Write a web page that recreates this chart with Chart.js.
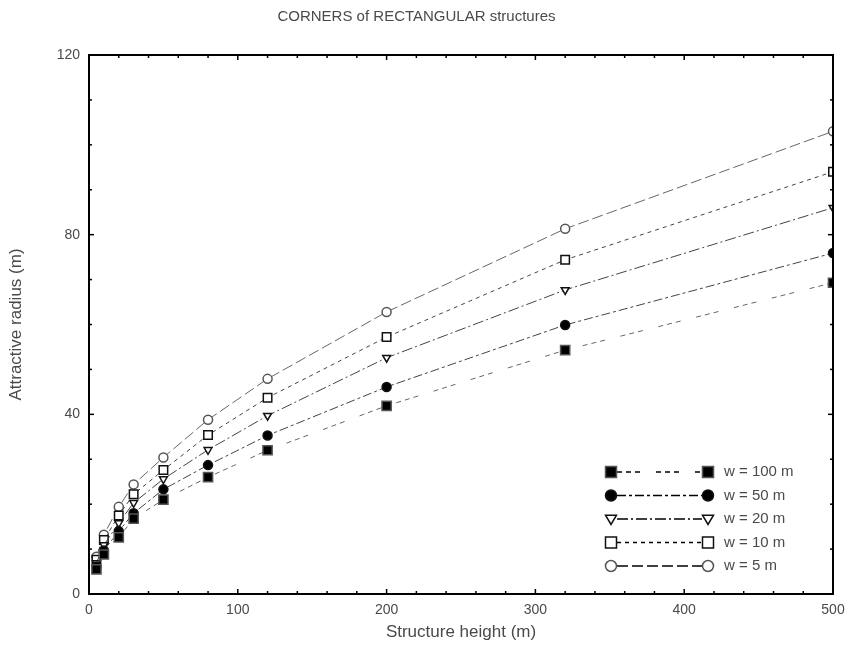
<!DOCTYPE html>
<html><head><meta charset="utf-8">
<script src="https://cdn.jsdelivr.net/npm/chart.js@4/dist/chart.umd.min.js"></script>
<style>html,body{margin:0;padding:0;background:#fff}</style>
</head><body>
<canvas id="c" width="848" height="657"></canvas>
<script>
// ---- data ----
const heights = [5, 10, 20, 30, 50, 80, 120, 200, 320, 500];
const w100 = [5.5, 8.8, 12.6, 16.8, 21.0, 26.0, 32.0, 41.9, 54.3, 69.3];
const w50  = [6.1, 9.7, 14.0, 18.0, 23.3, 28.7, 35.3, 46.1, 59.9, 75.9];
const w20  = [6.9, 10.9, 15.8, 20.3, 25.6, 32.1, 39.7, 52.6, 67.7, 86.0];
const w10  = [7.6, 12.0, 17.5, 22.2, 27.6, 35.4, 43.7, 57.2, 74.4, 94.0];
const w5   = [8.3, 13.2, 19.4, 24.4, 30.4, 38.8, 47.9, 62.8, 81.3, 103.0];
const seriesLabels = ['w = 100 m', 'w = 50 m', 'w = 20 m', 'w = 10 m', 'w = 5 m'];
const titleText = 'CORNERS of RECTANGULAR structures';
const xTitle = 'Structure height (m)';
const yTitle = 'Attractive radius (m)';
const xMajorTicks = [0, 100, 200, 300, 400, 500];
const xMinorTicks = [20, 40, 60, 80, 120, 140, 160, 180, 220, 240, 260, 280, 320, 340, 360, 380, 420, 440, 460, 480];
const yMajorTicks = [0, 40, 80, 120];
const yMinorTicks = [10, 20, 30, 50, 60, 70, 90, 100, 110];

const FONT = '"Liberation Sans", Arial, sans-serif';
const TXT = '#4a4a4a';

function ds(label, vals, style, dash, color, fill, rot, r) {
  return {
    label, data: heights.map((h, i) => ({x: h, y: vals[i]})),
    borderColor: color, borderWidth: 1, borderDash: dash,
    pointStyle: style, pointRotation: rot || 0, pointRadius: r, pointHoverRadius: r,
    pointBorderColor: color === '#666' ? '#555' : '#111', pointBackgroundColor: fill, pointBorderWidth: 1.5,
    tension: 0, fill: false
  };
}

const datasets = [
  ds(seriesLabels[0], w100, 'rect', [5, 4, 5, 4, 5, 16], '#666', '#000', 0, 6.5),
  ds(seriesLabels[1], w50, 'circle', [9, 3, 3, 3], '#444', '#000', 0, 4.5),
  ds(seriesLabels[2], w20, 'triangle', [11, 3, 2, 3], '#444', '#fff', 180, 4.5),
  ds(seriesLabels[3], w10, 'rect', [4, 4], '#444', '#fff', 0, 6),
  ds(seriesLabels[4], w5, 'circle', [11, 4], '#666', '#fff', 0, 4.5)
];

const framePlugin = {
  id: 'frame',
  afterDatasetsDraw(chart) {
    const {ctx, chartArea: a, scales: {x, y}} = chart;
    ctx.save();
    ctx.strokeStyle = '#000';
    ctx.lineWidth = 1.5;
    function tick(px, py, dx, dy) { ctx.beginPath(); ctx.moveTo(px, py); ctx.lineTo(px + dx, py + dy); ctx.stroke(); }
    yMinorTicks.forEach(v => { const p = y.getPixelForValue(v); tick(a.left, p, 3, 0); tick(a.right, p, -3, 0); });
    yMajorTicks.forEach(v => { const p = y.getPixelForValue(v); tick(a.left, p, 5, 0); tick(a.right, p, -5, 0); });
    xMinorTicks.forEach(v => { const p = x.getPixelForValue(v); tick(p, a.bottom, 0, -3); tick(p, a.top, 0, 3); });
    xMajorTicks.forEach(v => { const p = x.getPixelForValue(v); tick(p, a.bottom, 0, -5); tick(p, a.top, 0, 5); });
    ctx.lineWidth = 2;
    ctx.strokeRect(a.left, a.top, a.right - a.left, a.bottom - a.top);
    ctx.restore();
  }
};

function drawMarker(ctx, d, cx, cy, r) {
  ctx.save();
  ctx.lineWidth = 1.5;
  ctx.strokeStyle = d.pointBorderColor;
  ctx.fillStyle = d.pointBackgroundColor;
  ctx.beginPath();
  if (d.pointStyle === 'rect') {
    ctx.rect(cx - r, cy - r, 2 * r, 2 * r);
  } else if (d.pointStyle === 'circle') {
    ctx.arc(cx, cy, r, 0, Math.PI * 2);
  } else if (d.pointStyle === 'triangle') {
    ctx.moveTo(cx - r, cy - r * 0.7); ctx.lineTo(cx + r, cy - r * 0.7); ctx.lineTo(cx, cy + r); ctx.closePath();
  }
  ctx.fill(); ctx.stroke();
  ctx.restore();
}

const legendPlugin = {
  id: 'customLegend',
  afterDraw(chart) {
    const {ctx} = chart;
    const x0 = 611, x1 = 708, tx = 724, y0 = 472, dy = 23.5;
    chart.data.datasets.forEach((d, i) => {
      const yy = y0 + i * dy;
      ctx.save();
      ctx.strokeStyle = '#000';
      ctx.lineWidth = 1.5;
      ctx.setLineDash(d.borderDash);
      ctx.beginPath(); ctx.moveTo(x0 + 6, yy); ctx.lineTo(x1 - 6, yy); ctx.stroke();
      ctx.setLineDash([]);
      ctx.restore();
      drawMarker(ctx, d, x0, yy, 5.5);
      drawMarker(ctx, d, x1, yy, 5.5);
      ctx.save();
      ctx.fillStyle = TXT;
      ctx.font = '15px ' + FONT;
      ctx.textBaseline = 'middle';
      ctx.fillText(d.label, tx, yy);
      ctx.restore();
    });
  }
};

new Chart(document.getElementById('c'), {
  type: 'line',
  data: {datasets},
  options: {
    responsive: false,
    animation: false,
    devicePixelRatio: 1,
    layout: {padding: {left: 0, right: 15, top: 0, bottom: 0}},
    plugins: {
      legend: {display: false},
      tooltip: {enabled: false},
      title: {display: true, text: titleText, color: TXT, font: {family: FONT, size: 15, weight: 'normal'}, padding: {top: 8, bottom: 29}}
    },
    scales: {
      x: {
        type: 'linear', min: 0, max: 500,
        grid: {display: false, tickLength: 6}, border: {display: false},
        ticks: {stepSize: 100, color: TXT, font: {family: FONT, size: 14}, padding: 2, maxRotation: 0},
        title: {display: true, text: xTitle, color: TXT, font: {family: FONT, size: 17}, padding: {top: 0, bottom: 14}},
        afterFit(s) { s.height = 63; }
      },
      y: {
        type: 'linear', min: 0, max: 120,
        grid: {display: false, tickLength: 6}, border: {display: false},
        ticks: {stepSize: 40, color: TXT, font: {family: FONT, size: 14}, padding: 3},
        title: {display: true, text: yTitle, color: TXT, font: {family: FONT, size: 17}, padding: {top: 6, bottom: 0}},
        afterFit(s) { s.width = 89; }
      }
    }
  },
  plugins: [framePlugin, legendPlugin]
});
</script>
</body></html>
